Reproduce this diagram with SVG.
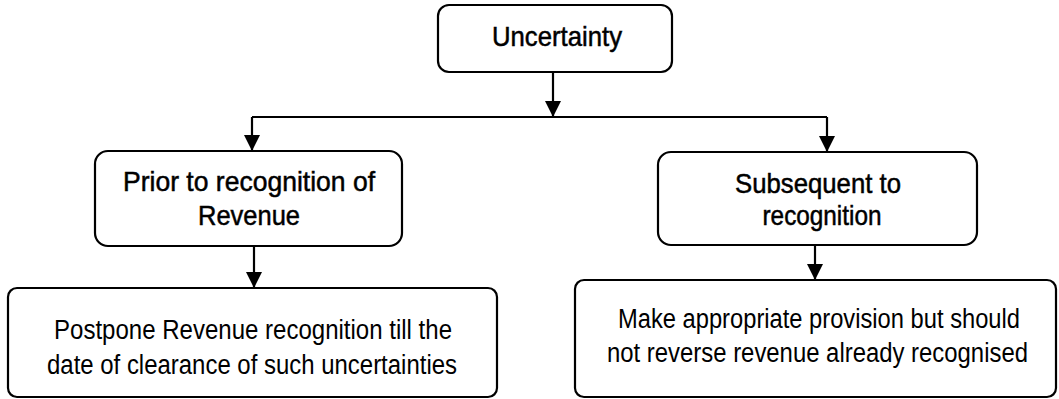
<svg xmlns="http://www.w3.org/2000/svg" width="1059" height="399" viewBox="0 0 1059 399">
<style>
.box{fill:#fff;stroke:#000;stroke-width:2.2}
.c{fill:none;stroke:#000;stroke-width:2.2}
text{font-family:"Liberation Sans",Arial,sans-serif;fill:#000;text-anchor:middle}
.h{font-size:28px;stroke:#000;stroke-width:0.5}
.b{font-size:27px}
</style>
<defs>
<marker id="ah" markerUnits="userSpaceOnUse" markerWidth="18" markerHeight="16" refX="16" refY="8" orient="auto">
<path d="M0,0 L16,8 L0,16 Z" fill="#000"/>
</marker>
</defs>
<g id="connectors">
<line class="c" x1="553" y1="72" x2="553" y2="117" marker-end="url(#ah)"/>
<line class="c" x1="252" y1="117" x2="827" y2="117"/>
<line class="c" x1="252" y1="117" x2="252" y2="151" marker-end="url(#ah)"/>
<line class="c" x1="827" y1="117" x2="827" y2="152" marker-end="url(#ah)"/>
<line class="c" x1="254" y1="246" x2="254" y2="288" marker-end="url(#ah)"/>
<line class="c" x1="815" y1="245" x2="815" y2="280" marker-end="url(#ah)"/>
</g>
<g id="uncertainty">
<rect class="box" x="438" y="5" width="234" height="67" rx="11"/>
<text class="h" x="557" y="46" textLength="130" lengthAdjust="spacingAndGlyphs">Uncertainty</text>
</g>
<g id="prior">
<rect class="box" x="95" y="151" width="307" height="95" rx="13"/>
<text class="h" x="249" y="191" textLength="252" lengthAdjust="spacingAndGlyphs">Prior to recognition of</text>
<text class="h" x="249" y="225" textLength="102" lengthAdjust="spacingAndGlyphs">Revenue</text>
</g>
<g id="subsequent">
<rect class="box" x="658" y="152" width="319" height="93" rx="13"/>
<text class="h" x="818" y="193" textLength="166" lengthAdjust="spacingAndGlyphs">Subsequent to</text>
<text class="h" x="822" y="225" textLength="119" lengthAdjust="spacingAndGlyphs">recognition</text>
</g>
<g id="postpone">
<rect class="box" x="8" y="288" width="489" height="109" rx="9"/>
<text class="b" x="253" y="339" textLength="398" lengthAdjust="spacingAndGlyphs">Postpone Revenue recognition till the</text>
<text class="b" x="252" y="374" textLength="410" lengthAdjust="spacingAndGlyphs">date of clearance of such uncertainties</text>
</g>
<g id="provision">
<rect class="box" x="575" y="280" width="481" height="117" rx="9"/>
<text class="b" x="819" y="328" textLength="402" lengthAdjust="spacingAndGlyphs">Make appropriate provision but should</text>
<text class="b" x="817.5" y="362" textLength="421" lengthAdjust="spacingAndGlyphs">not reverse revenue already recognised</text>
</g>
</svg>
